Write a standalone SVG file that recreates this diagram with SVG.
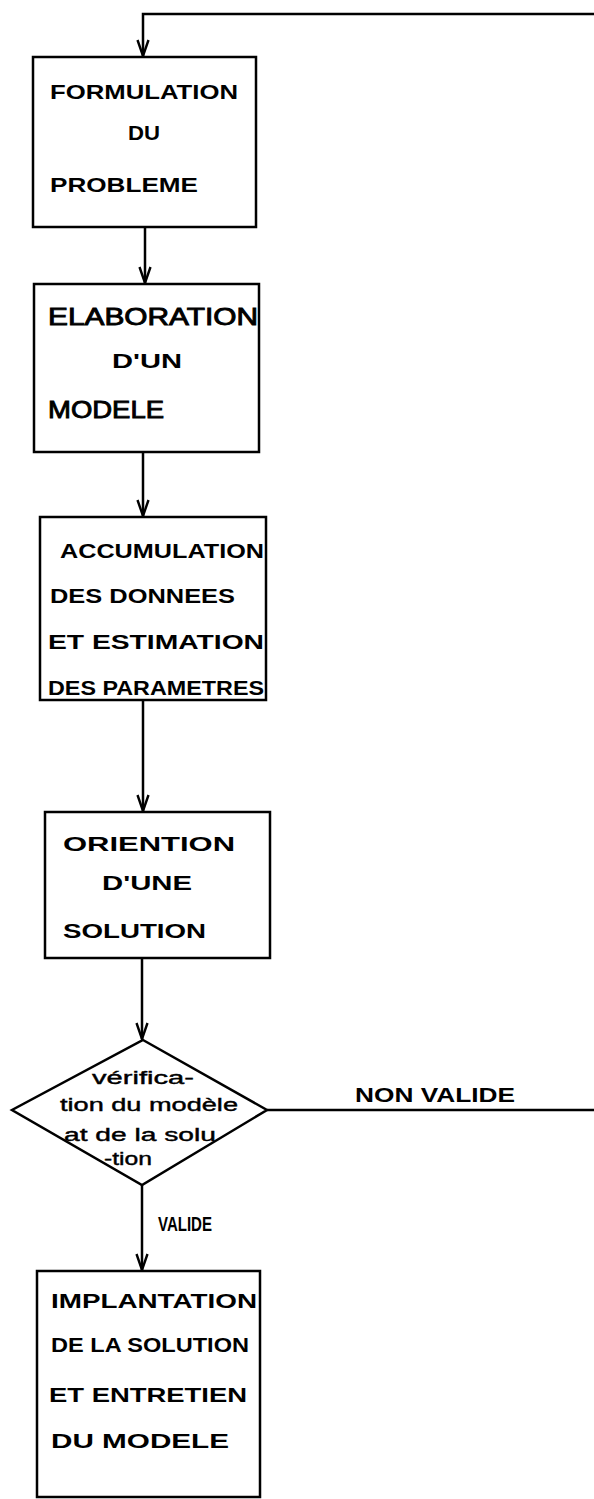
<svg xmlns="http://www.w3.org/2000/svg" width="594" height="1499" viewBox="0 0 594 1499">
<style>
.box{fill:#fff;stroke:#000;stroke-width:2.5}
.con{fill:none;stroke:#000;stroke-width:2.5}
.t{font-family:"Liberation Sans",Arial,sans-serif;font-weight:bold;font-size:21px;fill:#000}
.big{font-size:24px;font-weight:normal;stroke:#000;stroke-width:0.9}
.h{font-family:"Liberation Sans",Arial,sans-serif;font-size:18px;fill:#000;stroke:#000;stroke-width:0.4}
</style>
<defs>
<marker id="arr" markerWidth="18" markerHeight="14" refX="17" refY="7" orient="auto" markerUnits="userSpaceOnUse" viewBox="0 0 18 14">
<path d="M1,1.5 L17,7 L1,12.5" fill="none" stroke="#000" stroke-width="2.4"/>
</marker>
</defs>
<rect width="594" height="1499" fill="#fff"/>
<g id="connectors">
<path class="con" d="M594,14 L143,14 L143,56" marker-end="url(#arr)"/>
<path class="con" d="M145,227 L145,283" marker-end="url(#arr)"/>
<path class="con" d="M143,452 L143,516" marker-end="url(#arr)"/>
<path class="con" d="M143,700 L143,811" marker-end="url(#arr)"/>
<path class="con" d="M142,958 L142,1039" marker-end="url(#arr)"/>
<path class="con" d="M142,1185 L142,1270" marker-end="url(#arr)"/>
<path class="con" d="M267,1110 L594,1110"/>
<text class="t" x="355" y="1102" font-size="18" textLength="160" lengthAdjust="spacingAndGlyphs">NON VALIDE</text>
<text class="t" x="158" y="1231" font-size="15" textLength="54" lengthAdjust="spacingAndGlyphs">VALIDE</text>
</g>
<g id="n1">
<rect class="box" x="33" y="57" width="223" height="170"/>
<text class="t" x="50" y="99" textLength="188" lengthAdjust="spacingAndGlyphs">FORMULATION</text>
<text class="t" x="128" y="140" textLength="32" lengthAdjust="spacingAndGlyphs">DU</text>
<text class="t" x="50" y="192" textLength="148" lengthAdjust="spacingAndGlyphs">PROBLEME</text>
</g>
<g id="n2">
<rect class="box" x="34" y="284" width="225" height="168"/>
<text class="t big" x="48" y="325" textLength="210" lengthAdjust="spacingAndGlyphs">ELABORATION</text>
<text class="t" x="112" y="368" textLength="70" lengthAdjust="spacingAndGlyphs">D'UN</text>
<text class="t big" x="48" y="418" textLength="116" lengthAdjust="spacingAndGlyphs">MODELE</text>
</g>
<g id="n3">
<rect class="box" x="40" y="517" width="226" height="183"/>
<text class="t" x="60" y="558" textLength="204" lengthAdjust="spacingAndGlyphs">ACCUMULATION</text>
<text class="t" x="50" y="603" textLength="185" lengthAdjust="spacingAndGlyphs">DES DONNEES</text>
<text class="t" x="48" y="649" textLength="216" lengthAdjust="spacingAndGlyphs">ET ESTIMATION</text>
<text class="t" x="48" y="695" textLength="216" lengthAdjust="spacingAndGlyphs">DES PARAMETRES</text>
</g>
<g id="n4">
<rect class="box" x="45" y="812" width="225" height="146"/>
<text class="t" x="63" y="851" textLength="172" lengthAdjust="spacingAndGlyphs">ORIENTION</text>
<text class="t" x="102" y="890" textLength="90" lengthAdjust="spacingAndGlyphs">D'UNE</text>
<text class="t" x="63" y="938" textLength="143" lengthAdjust="spacingAndGlyphs">SOLUTION</text>
</g>
<g id="n5">
<polygon class="box" points="143,1040 267,1110 142,1185 12,1110"/>
<text class="h" x="92" y="1084" textLength="102" lengthAdjust="spacingAndGlyphs">vérifica-</text>
<text class="h" x="60" y="1111" textLength="178" lengthAdjust="spacingAndGlyphs">tion du modèle</text>
<text class="h" x="64" y="1141" textLength="152" lengthAdjust="spacingAndGlyphs">at de la solu</text>
<text class="h" x="104" y="1165" textLength="48" lengthAdjust="spacingAndGlyphs">-tion</text>
</g>
<g id="n6">
<rect class="box" x="37" y="1271" width="223" height="226"/>
<text class="t" x="51" y="1308" textLength="206" lengthAdjust="spacingAndGlyphs">IMPLANTATION</text>
<text class="t" x="51" y="1352" textLength="198" lengthAdjust="spacingAndGlyphs">DE LA SOLUTION</text>
<text class="t" x="49" y="1402" textLength="198" lengthAdjust="spacingAndGlyphs">ET ENTRETIEN</text>
<text class="t" x="51" y="1448" textLength="178" lengthAdjust="spacingAndGlyphs">DU  MODELE</text>
</g>
</svg>
